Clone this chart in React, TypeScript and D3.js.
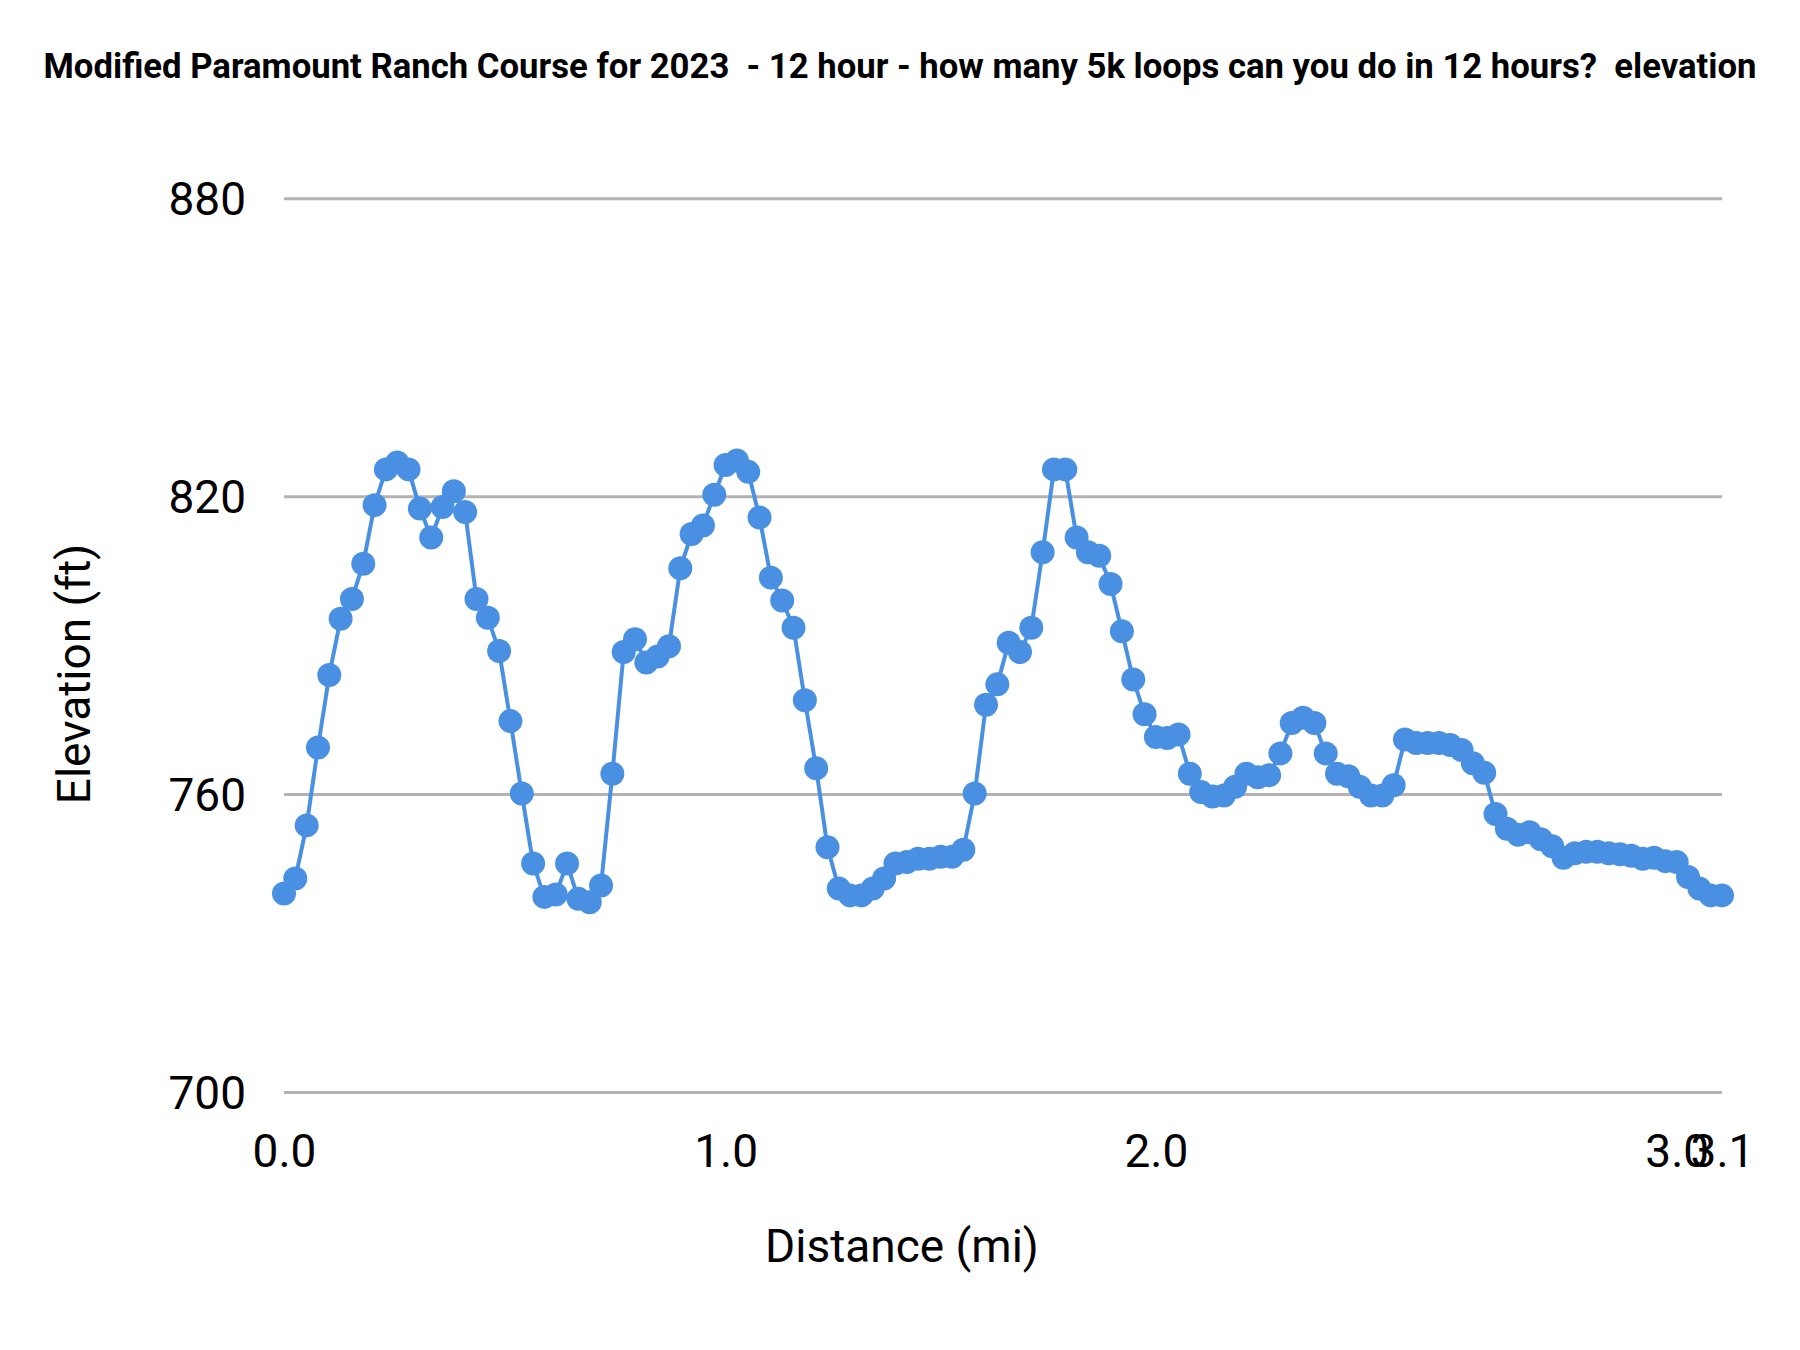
import React, { useEffect, useRef } from 'react';
import * as d3 from 'd3';

// elevation (ft) of each sample point, in course order
const elevations: number[] = [
  740, 743, 753.7, 769.4, 784, 795.3, 799.3, 806.4, 818.2, 825.4,
  826.8, 825.4, 817.5, 811.7, 817.8, 821, 816.8, 799.3, 795.5, 788.8,
  774.7, 760.1, 746, 739.3, 739.8, 746, 738.9, 738.2, 741.6, 764.1,
  788.6, 791.2, 786.5, 787.7, 789.8, 805.5, 812.4, 814.1, 820.3, 826.3,
  827.2, 824.9, 815.7, 803.6, 799, 793.5, 778.9, 765.2, 749.3, 741,
  739.6, 739.6, 741, 743, 746, 746.3, 747, 747, 747.4, 747.4,
  748.8, 760.1, 778, 782.1, 790.5, 788.6, 793.5, 808.7, 825.4, 825.4,
  811.7, 808.7, 808, 802.3, 792.8, 783.1, 776.1, 771.5, 771.3, 772,
  764.1, 760.4, 759.5, 759.7, 761.5, 764.1, 763.4, 763.8, 768.2, 774.3,
  775.4, 774.3, 768.2, 764.1, 763.6, 761.5, 759.7, 759.7, 761.8, 771,
  770.3, 770.3, 770.3, 769.9, 768.9, 766.2, 764.3, 756, 753, 751.8,
  752.3, 750.9, 749.5, 747.2, 748.1, 748.4, 748.4, 748.1, 747.9, 747.6,
  747, 747.2, 746.5, 746.3, 743.3, 741, 739.6, 739.6,
];

// x-axis labels sit on particular sample points
const xTickIndex: number[] = [0, 39, 77, 123, 127];
const xTickLabels: string[] = ['0.0', '1.0', '2.0', '3.0', '3.1'];
const yTicks: number[] = [700, 760, 820, 880];

const titleText = 'Modified Paramount Ranch Course for 2023  - 12 hour - how many 5k loops can you do in 12 hours?  elevation';

const ElevationChart: React.FC = () => {
  const chartRef = useRef<SVGSVGElement | null>(null);

  useEffect(() => {
    const W = 1800;
    const H = 1350;
    const left = 284, right = 1722, top = 198.3, bottom = 1092;
    const color = '#4A90E2';
    const font = 'Roboto, "Open Sans", sans-serif';

    d3.select(chartRef.current).selectAll('*').remove();

    const svg = d3.select(chartRef.current)
      .attr('width', W)
      .attr('height', H)
      .style('font-family', font);

    svg.append('rect').attr('width', W).attr('height', H).attr('fill', '#fff');

    const x = d3.scaleLinear().domain([0, elevations.length - 1]).range([left, right]);
    const y = d3.scaleLinear().domain([700, 880]).range([bottom, top]);

    // title (keep the double spaces)
    svg.append('text')
      .attr('x', 900)
      .attr('y', 78)
      .attr('text-anchor', 'middle')
      .style('font-size', '34.7px')
      .style('font-weight', 'bold')
      .style('white-space', 'pre')
      .text(titleText);

    // gridlines + y labels
    const yAxis = svg.append('g')
      .attr('transform', `translate(${left},0)`)
      .call(d3.axisLeft(y).tickValues(yTicks).tickSize(-(right - left)).tickPadding(38).tickFormat(d => `${d}`));
    yAxis.select('.domain').remove();
    yAxis.selectAll('.tick line').attr('stroke', '#b3b3b3').attr('stroke-width', 3);
    yAxis.selectAll('.tick text')
      .attr('fill', '#000')
      .attr('dy', '0.36em')
      .style('font-size', '46px')
      .style('font-family', font);

    // x labels
    const xAxis = svg.append('g')
      .attr('transform', `translate(0,${bottom})`)
      .call(d3.axisBottom(x).tickValues(xTickIndex).tickSize(0).tickPadding(42)
        .tickFormat((_, i) => xTickLabels[i]));
    xAxis.select('.domain').remove();
    xAxis.selectAll('.tick text')
      .attr('fill', '#000')
      .style('font-size', '46px')
      .style('font-family', font);

    // axis titles
    svg.append('text')
      .attr('x', 902)
      .attr('y', 1262)
      .attr('text-anchor', 'middle')
      .style('font-size', '46px')
      .text('Distance (mi)');

    svg.append('text')
      .attr('transform', 'translate(90,674) rotate(-90)')
      .attr('text-anchor', 'middle')
      .style('font-size', '46px')
      .text('Elevation (ft)');

    // line
    const line = d3.line<number>()
      .x((_, i) => x(i))
      .y(d => y(d));

    svg.append('path')
      .datum(elevations)
      .attr('fill', 'none')
      .attr('stroke', color)
      .attr('stroke-width', 4)
      .attr('stroke-linejoin', 'round')
      .attr('d', line);

    svg.selectAll('.dot')
      .data(elevations)
      .enter().append('circle')
      .attr('class', 'dot')
      .attr('cx', (_, i) => x(i))
      .attr('cy', d => y(d))
      .attr('r', 12)
      .attr('fill', color);
  }, []);

  return <svg ref={chartRef} style={{ position: 'absolute', left: 0, top: 0 }}></svg>;
};

export default function App() {
  return <ElevationChart />;
}
